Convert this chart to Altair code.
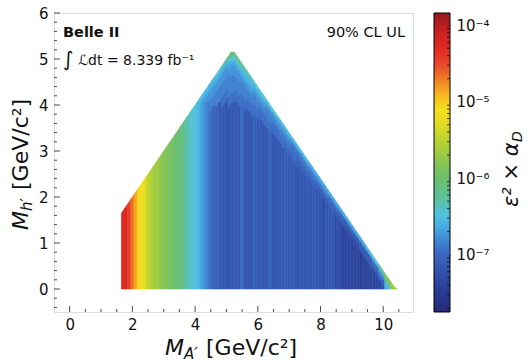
import altair as alt
import pandas as pd

# ---------------- data ----------------
# level code: log10(eps^2 * alpha_D) = -7.75 + 0.1 * index(char)
LEVELS = "0123456789ABCDEFGHIJKLMNOPQRSTUVWXYZ"
LOG_LEVEL0 = -7.75
LOG_LEVEL_STEP = 0.1

mA_start = 1.65      # left edge of the first m_A' column [GeV]
col_width = 0.1      # column width [GeV]
band_step = 0.1      # depth of one band cell below the kinematic edge [GeV]
kin_limit = 10.4     # m_A' + m_h' limit

# body level of each 0.1 GeV column (m_A' = 1.7 ... 10.4)
body_code = ("ZZXVTRQPNM" "LLKJJIIHHG" "FEDDCBA987" "7666666686" "6676666766"
             "6676666666" "6666566655" "4444443444" "4445BJLL")

# levels just below the upper (kinematic) edge, from the edge downward,
# one string per pair of columns (0.2 GeV)
band_codes = [""] * 12 + [
    "C", "CBA", "CBAA99", "DBAA999", "EBAA99988",
    "HDBAA999988", "GDBAA99988", "FCBA99988", "ECBA9988",
    "DBA9988", "DBA988", "DA9988", "DA988", "CA988", "CA987",
    "C9887", "C987", "C987", "B987", "B97", "B97", "B87", "B86",
    "B76", "B75", "B75", "B76", "C76", "D86", "FA7", "JFC", "L",
]

# colour bar
cbar_logs = [-7.75, -7.5, -7.25, -7.0, -6.8, -6.62, -6.48, -6.3, -6.05, -5.8,
             -5.55, -5.3, -5.1, -4.9, -4.7, -4.5, -4.3, -4.05, -3.84]
cbar_colors = ["#252a78", "#293a92", "#3050aa", "#3a66c0", "#4088d4", "#47aee3",
               "#50c2de", "#5bc1a6", "#68bf72", "#88c552", "#b2d034", "#dfdb22",
               "#f5e01c", "#f6b221", "#f07c22", "#e8462a", "#e22a22", "#c21f20",
               "#921a1c"]
cbar_ticks = [1e-7, 1e-6, 1e-5, 1e-4]
cbar_minor = [2e-8, 3e-8, 4e-8, 5e-8, 6e-8, 7e-8, 8e-8, 9e-8,
              2e-7, 3e-7, 4e-7, 5e-7, 6e-7, 7e-7, 8e-7, 9e-7,
              2e-6, 3e-6, 4e-6, 5e-6, 6e-6, 7e-6, 8e-6, 9e-6,
              2e-5, 3e-5, 4e-5, 5e-5, 6e-5, 7e-5, 8e-5, 9e-5]

x_major = [0, 2, 4, 6, 8, 10]
x_minor = [0.5, 1, 1.5, 2.5, 3, 3.5, 4.5, 5, 5.5, 6.5, 7, 7.5, 8.5, 9, 9.5, 10.5]
y_major = [0, 1, 2, 3, 4, 5, 6]
y_minor = [-0.4, -0.2, 0.2, 0.4, 0.6, 0.8, 1.2, 1.4, 1.6, 1.8, 2.2, 2.4, 2.6, 2.8,
           3.2, 3.4, 3.6, 3.8, 4.2, 4.4, 4.6, 4.8, 5.2, 5.4, 5.6, 5.8]

# ---------------- build cells ----------------
def top_edge(x):
    return max(0.0, min(x, kin_limit - x))

def level_value(ch):
    return 10 ** (LOG_LEVEL0 + LOG_LEVEL_STEP * LEVELS.index(ch))

rows = []
pid = 0
for i, code in enumerate(body_code):
    xl = round(mA_start + col_width * i, 4)
    xr = round(xl + col_width, 4)
    tl, tr = top_edge(xl), top_edge(xr)
    band = band_codes[i // 2]
    n = len(band)
    segs = [(code, 0.0, max(0.0, tl - n * band_step), 0.0, max(0.0, tr - n * band_step))]
    for k, ch in enumerate(band):
        segs.append((ch,
                     max(0.0, tl - (k + 1) * band_step), max(0.0, tl - k * band_step),
                     max(0.0, tr - (k + 1) * band_step), max(0.0, tr - k * band_step)))
    for ch, lo_l, hi_l, lo_r, hi_r in segs:
        if hi_l - lo_l < 1e-9 and hi_r - lo_r < 1e-9:
            continue
        v = level_value(ch)
        rows.append(dict(pid=pid, x=xl, lo=lo_l, hi=hi_l, val=v, edge=v))
        rows.append(dict(pid=pid, x=xr, lo=lo_r, hi=hi_r, val=v, edge=v))
        pid += 1

cells = pd.DataFrame(rows)

# ---------------- chart ----------------
W, H = 359, 299
CB_X0, CB_X1 = 380, 396          # colour-bar left/right inside the canvas
FONT = "DejaVu Sans"
xscale = alt.Scale(domain=[-0.5, 10.95], nice=False, zero=False)
yscale = alt.Scale(domain=[-0.5, 6], nice=False, zero=False)
cdomain = [10 ** l for l in cbar_logs]
cscale = alt.Scale(type="log", domain=cdomain, range=cbar_colors, interpolate="rgb")
sscale = alt.Scale(type="log", domain=cdomain, range=cbar_colors, interpolate="rgb")
cbscale = alt.Scale(type="log", domain=[cdomain[0], cdomain[-1]], nice=False)

xaxis = alt.Axis(values=x_major, ticks=False, domain=False, grid=False,
                 labelFontSize=15, labelPadding=5, title=None,
                 labelFont=FONT, labelColor="#111")
yaxis = alt.Axis(values=y_major, ticks=False, domain=False, grid=False,
                 labelFontSize=15, labelPadding=6, title=None,
                 labelFont=FONT, labelColor="#111")

label_expr = ("'10⁻' + ['⁰','¹','²','³','⁴','⁵','⁶','⁷','⁸','⁹']"
              "[-round(log(datum.value)/LN10)]")
cbaxis = alt.Axis(orient="right", offset=CB_X1 - W - 5, values=cbar_ticks,
                  tickSize=5, tickColor="black", tickWidth=1, domain=False,
                  grid=False, labelExpr=label_expr, labelFontSize=15,
                  labelPadding=6, labelFont=FONT, labelColor="#111", title=None)

heat = alt.Chart(cells).mark_area(strokeWidth=0.6).encode(
    x=alt.X("x:Q", scale=xscale, axis=xaxis),
    y=alt.Y("hi:Q", scale=yscale, stack=False, axis=yaxis),
    y2="lo:Q",
    detail="pid:N",
    color=alt.Color("val:Q", scale=cscale, legend=None),
    stroke=alt.Stroke("edge:Q", scale=sscale, legend=None),
)


def xticks(vals, size):
    return alt.Chart(pd.DataFrame({"x": vals})).mark_tick(
        size=size, thickness=1, color="black").encode(
        x=alt.X("x:Q", scale=xscale, axis=xaxis), y=alt.value(H - size / 2))


def yticks(vals, size):
    return alt.Chart(pd.DataFrame({"hi": vals})).mark_tick(
        size=size, thickness=1, color="black").encode(
        y=alt.Y("hi:Q", scale=yscale, axis=yaxis), x=alt.value(size / 2))


def txt(text, x, y, size, angle=0, weight="normal", style="normal", align="left"):
    return alt.Chart(pd.DataFrame({"t": [text]})).mark_text(
        font=FONT, fontSize=size, fontWeight=weight, fontStyle=style, angle=angle,
        align=align, baseline="alphabetic", color="#111").encode(
        text="t:N", x=alt.value(x), y=alt.value(y))


texts = [
    txt("Belle II", 9, 24, 14.5, weight="bold"),
    txt("∫", 9, 53, 20),
    txt("ℒdt = 8.339 fb⁻¹", 24, 52, 14),
    txt("90% CL UL", 351, 24, 14.5, align="right"),
    # x-axis title
    txt("M", 111, 342, 22, style="italic"),
    txt("A′", 130, 346, 15, style="italic"),
    txt("[GeV/c²]", 152, 342, 22),
    # y-axis title
    txt("M", -26, 217, 22, angle=270, style="italic"),
    txt("h′", -22, 198, 15, angle=270, style="italic"),
    txt("[GeV/c²]", -26, 177, 22, angle=270),
    # colour-bar title
    txt("ε² × α", 464, 194, 21, angle=270, style="italic"),
    txt("D", 468, 129, 14, angle=270, style="italic"),
]

main = alt.layer(
    heat,
    xticks(x_major, 6), xticks(x_minor, 3),
    yticks(y_major, 6), yticks(y_minor, 3),
    *texts,
)

# colour bar: gradient-filled box on its own logarithmic scale
span = cbar_logs[-1] - cbar_logs[0]
cb_gradient = alt.LinearGradient(
    gradient="linear", x1=0, x2=0, y1=1, y2=0,
    stops=[alt.GradientStop(offset=(l - cbar_logs[0]) / span, color=c)
           for l, c in zip(cbar_logs, cbar_colors)],
)
cb_box = alt.Chart(pd.DataFrame({"k": [0]})).mark_rect(
    fill=cb_gradient, stroke="black", strokeWidth=1).encode(
    x=alt.value(CB_X0), x2=alt.value(CB_X1),
    y=alt.Y(datum=cdomain[-1], type="quantitative", scale=cbscale, axis=cbaxis),
    y2=alt.Y2(datum=cdomain[0]),
)
cb_minor = alt.Chart(pd.DataFrame({"v": cbar_minor})).mark_tick(
    size=3, thickness=1, color="black").encode(
    y=alt.Y("v:Q", scale=cbscale, axis=cbaxis), x=alt.value(CB_X1 - 1.5))
cbar = alt.layer(cb_box, cb_minor)

chart = alt.layer(main, cbar).resolve_scale(y="independent").resolve_axis(
    y="independent").properties(
    width=W, height=H,
    autosize=alt.AutoSizeParams(type="none"),
    padding={"left": 54, "top": 13, "right": 114, "bottom": 50},
).configure_view(stroke="black", strokeWidth=1).configure(font=FONT)

chart.save("out.html", embed_options={"renderer": "svg", "actions": False})
